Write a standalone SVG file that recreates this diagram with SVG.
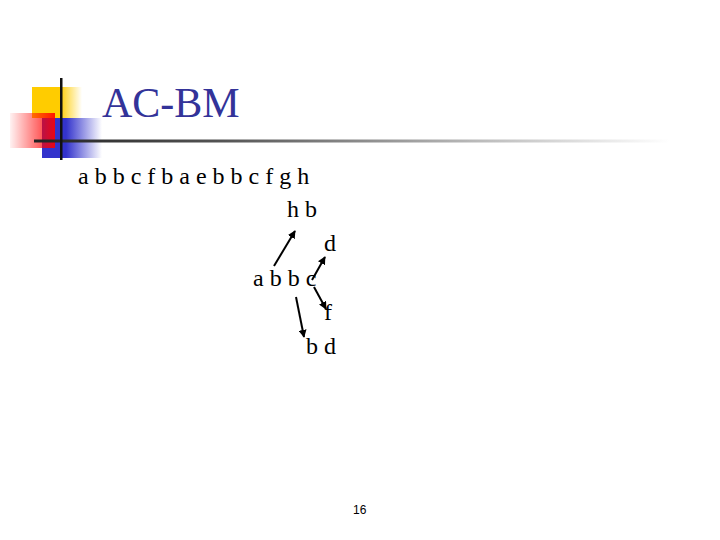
<svg xmlns="http://www.w3.org/2000/svg" width="720" height="540" viewBox="0 0 720 540">
<defs>
<linearGradient id="gy" x1="0" y1="0" x2="1" y2="0"><stop offset="0" stop-color="#ffcc00"/><stop offset="0.55" stop-color="#ffcc00"/><stop offset="1" stop-color="#ffcc00" stop-opacity="0"/></linearGradient>
<linearGradient id="gr" x1="0" y1="0" x2="1" y2="0"><stop offset="0" stop-color="#ff0000" stop-opacity="0.05"/><stop offset="1" stop-color="#ff0000" stop-opacity="0.9"/></linearGradient>
<linearGradient id="gb" x1="0" y1="0" x2="1" y2="0"><stop offset="0" stop-color="#3333cc"/><stop offset="0.4" stop-color="#3333cc"/><stop offset="1" stop-color="#3333cc" stop-opacity="0"/></linearGradient>
<linearGradient id="gl" x1="0" y1="0" x2="1" y2="0"><stop offset="0" stop-color="#222"/><stop offset="0.3" stop-color="#555"/><stop offset="0.7" stop-color="#bbb"/><stop offset="1" stop-color="#fff"/></linearGradient>
<marker id="ah" viewBox="0 0 10 10" refX="9" refY="5" markerWidth="4" markerHeight="4" orient="auto"><path d="M0,0 L10,5 L0,10 z" fill="#000"/></marker>
<style>
.t{font-family:"Liberation Serif","Times New Roman",serif;font-size:24px;fill:#000}
.c{stroke:#000;stroke-width:2;fill:none;marker-end:url(#ah)}
</style>
</defs>
<g id="logo">
<rect x="32" y="87" width="50" height="31" fill="url(#gy)"/>
<rect x="42" y="118" width="60" height="40" fill="url(#gb)"/>
<rect x="10" y="113" width="45" height="35" fill="url(#gr)"/>
<rect x="34" y="139.5" width="636" height="3" fill="url(#gl)"/>
<rect x="60" y="78" width="2.5" height="82" fill="#111"/>
</g>
<text id="title" x="102" y="117" font-family="Liberation Serif,Times New Roman,serif" font-size="42" fill="#333399">AC-BM</text>
<g id="n1"><text class="t" x="78" y="184">a b b c f b a e b b c f g h</text></g>
<g id="n2"><text class="t" x="287" y="217">h b</text></g>
<g id="n3"><text class="t" x="324" y="251">d</text></g>
<g id="n4"><text class="t" x="253" y="286">a b b c</text></g>
<g id="n5"><text class="t" x="324" y="320">f</text></g>
<g id="n6"><text class="t" x="306" y="354">b d</text></g>
<g id="connectors">
<line class="c" x1="274" y1="266" x2="295" y2="231"/>
<line class="c" x1="312" y1="280" x2="325" y2="257"/>
<line class="c" x1="314" y1="287" x2="326" y2="309"/>
<line class="c" x1="296" y1="297" x2="304" y2="337"/>
</g>
<text id="page" x="353" y="514" font-family="Liberation Sans,Arial,sans-serif" font-size="12" fill="#000">16</text>
</svg>
